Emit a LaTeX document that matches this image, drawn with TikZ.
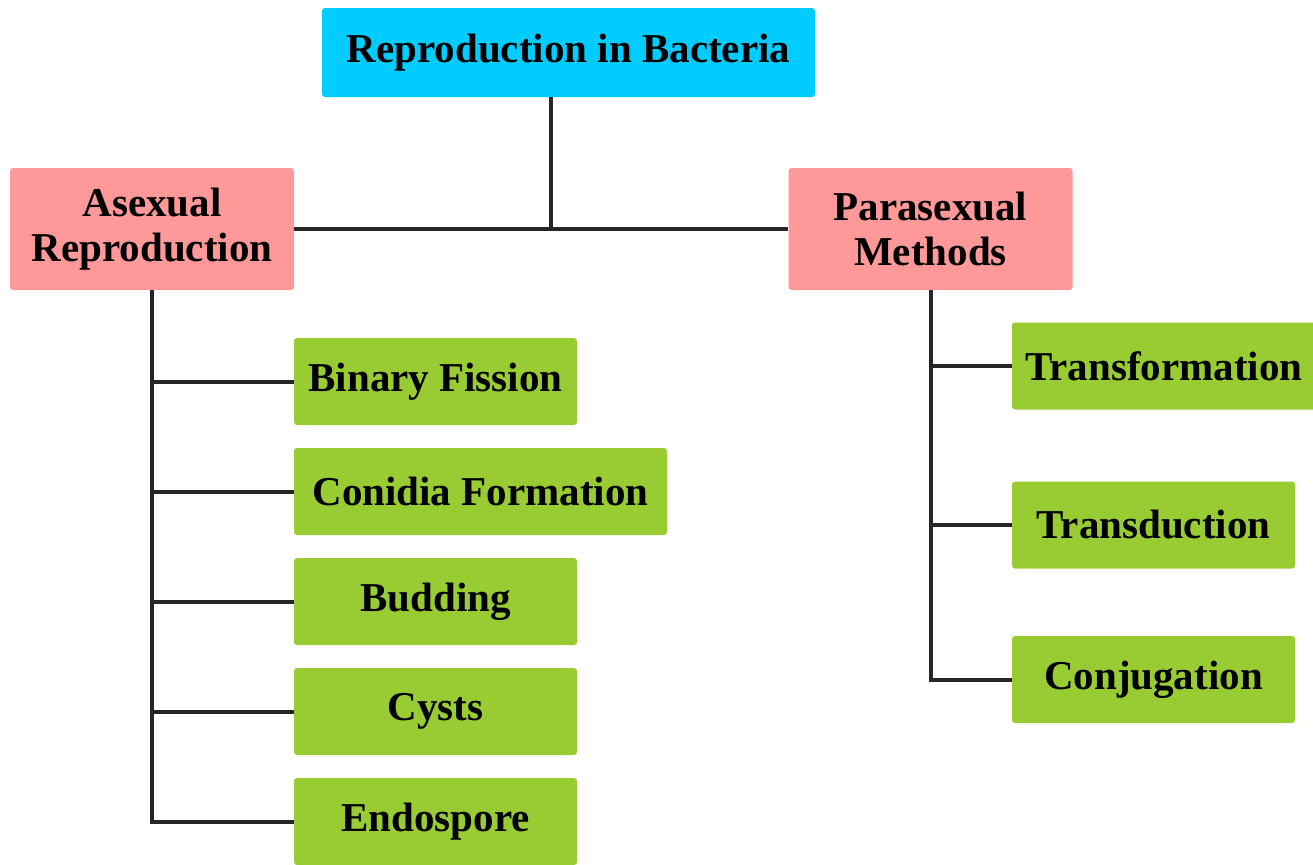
\documentclass[tikz,border=0pt]{standalone}
\usepackage{fontspec}
\setmainfont{Liberation Serif}[BoldFont={Liberation Serif Bold}]
\usepackage{xcolor}
\usepackage{tikz}
\definecolor{rootcyan}{HTML}{00CCFF}
\definecolor{grouppink}{HTML}{FF9999}
\definecolor{methodgreen}{HTML}{99CC33}
\tikzset{
  box/.style={
    rectangle, rounded corners=1.5pt, inner sep=0pt,
    font=\fontsize{20.5}{22.5}\selectfont\bfseries,
    align=center, text=black
  },
  rootbox/.style={box, fill=rootcyan, minimum width=246.5pt, minimum height=44.5pt},
  groupbox/.style={box, fill=grouppink, minimum width=142pt, minimum height=61pt},
  methodbox/.style={box, fill=methodgreen, minimum height=43.5pt},
  branch/.style={draw=black!85, line width=2pt}
}
\newcommand{\methodnode}[5]{%
  \node[methodbox, minimum width=#3] (#1) at (#4,#5) {#2};%
}

\begin{document}
\begin{tikzpicture}[x=0.5pt, y=-0.5pt]
    \useasboundingbox (0,0) rectangle (1313,864);
    \node[rootbox] (Bacteria) at (568.5,52.5) {Reproduction in Bacteria};
    \node[groupbox] (Asexual) at (152,229) {Asexual\\ Reproduction};
    \node[groupbox] (Parasexual) at (930.5,229) {Parasexual\\ Methods};
    \methodnode{BinaryFission}{Binary Fission}{141.5pt}{435.5}{381.5}
    \methodnode{ConidiaFormation}{Conidia Formation}{186.5pt}{480.5}{491.5}
    \methodnode{Budding}{Budding}{141.5pt}{435.5}{601.5}
    \methodnode{Cysts}{Cysts}{141.5pt}{435.5}{711.5}
    \methodnode{Endospore}{Endospore}{141.5pt}{435.5}{821.5}
    \methodnode{Transformation}{Transformation}{152pt}{1164}{366}
    \methodnode{Transduction}{Transduction}{141.5pt}{1153.5}{525}
    \methodnode{Conjugation}{Conjugation}{141.5pt}{1153.5}{679.5}
    \coordinate (junction) at (551,229);
    \draw[branch] (Bacteria.south -| junction) -- (junction);
    \draw[branch] (Asexual) -- (Parasexual);
    \draw[branch] (Asexual) |- (BinaryFission);
    \draw[branch] (Asexual) |- (ConidiaFormation);
    \draw[branch] (Asexual) |- (Budding);
    \draw[branch] (Asexual) |- (Cysts);
    \draw[branch] (Asexual) |- (Endospore);
    \draw[branch] (Parasexual) |- (Transformation);
    \draw[branch] (Parasexual) |- (Transduction);
    \draw[branch] (Parasexual) |- (Conjugation);
\end{tikzpicture}
\end{document}
